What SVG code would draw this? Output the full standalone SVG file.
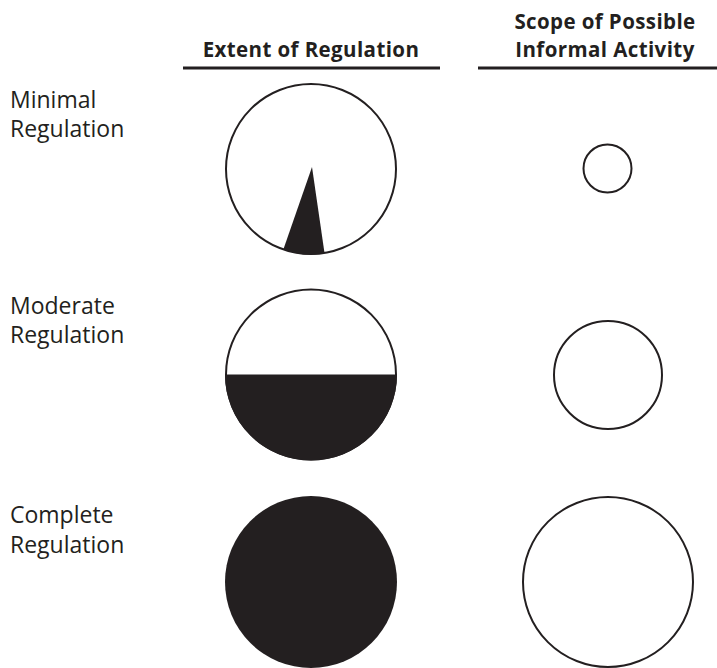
<svg xmlns="http://www.w3.org/2000/svg" width="717" height="668" viewBox="0 0 717 668">
<style>
.hd{font-family:"Open Sans","Noto Sans","Liberation Sans",sans-serif;font-weight:bold;font-size:20.5px;fill:#231f20;text-anchor:middle;letter-spacing:0.4px}
.lb{font-family:"Open Sans","Noto Sans","Liberation Sans",sans-serif;font-size:23px;fill:#231f20}
.ring{fill:#fff;stroke:#231f20;stroke-width:2}
.ink{fill:#231f20}
.rule{stroke:#231f20;stroke-width:3}
</style>
<rect width="717" height="668" fill="#fff"/>
<g id="headers">
<text class="hd" x="311" y="57">Extent of Regulation</text>
<line class="rule" x1="183" y1="68" x2="440" y2="68"/>
<text class="hd" x="605" y="29">Scope of Possible</text>
<text class="hd" x="605" y="57">Informal Activity</text>
<line class="rule" x1="478" y1="68" x2="717" y2="68"/>
</g>
<g id="row-minimal">
<text class="lb" x="10" y="108">Minimal</text>
<text class="lb" x="10" y="137">Regulation</text>
<circle class="ring" cx="311" cy="169" r="85"/>
<polygon class="ink" points="312,167 283.5,249 285,250 295,253 305,254.5 315,254.5 324.5,253"/>
<circle class="ring" cx="607.5" cy="168.5" r="24"/>
</g>
<g id="row-moderate">
<text class="lb" x="10" y="314">Moderate</text>
<text class="lb" x="10" y="343">Regulation</text>
<circle class="ring" cx="311" cy="374.5" r="85"/>
<path class="ink" d="M225 374.5 H397 A86 86 0 0 1 225 374.5 Z"/>
<circle class="ring" cx="608" cy="375" r="54"/>
</g>
<g id="row-complete">
<text class="lb" x="10" y="523">Complete</text>
<text class="lb" x="10" y="553">Regulation</text>
<circle class="ink" cx="311" cy="582" r="86"/>
<circle class="ring" cx="608" cy="582" r="85"/>
</g>
<g id="connectors"/>
</svg>
